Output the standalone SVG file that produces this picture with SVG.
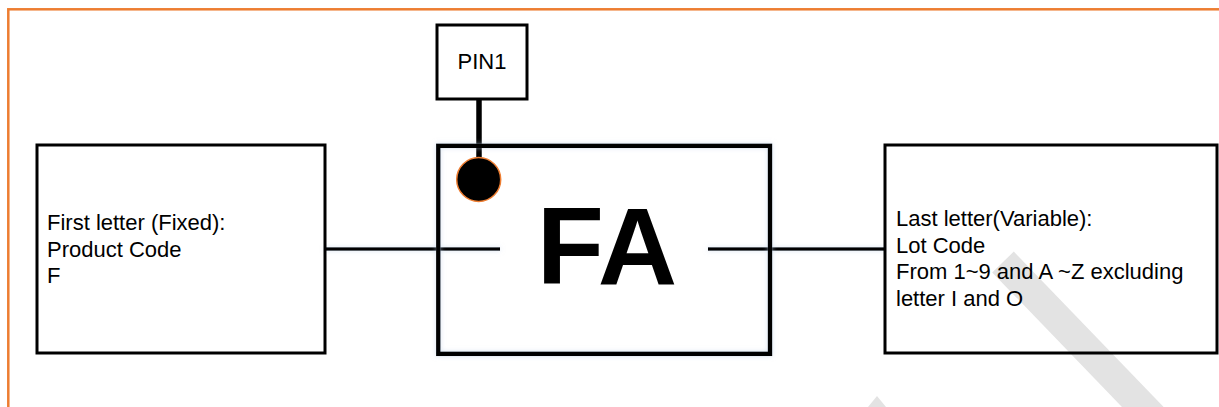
<svg xmlns="http://www.w3.org/2000/svg" width="1219" height="407" viewBox="0 0 1219 407">
  <defs>
    <style>
      .box { fill: none; stroke: #000; stroke-width: 3; }
      .chip { fill: none; stroke: #000; stroke-width: 4.5; }
      .lbl { font-family: "Liberation Sans", Arial, sans-serif; font-size: 22px; fill: #000; }
      .mark { font-family: "Liberation Sans", Arial, sans-serif; font-size: 110px; font-weight: bold; fill: #000; }
      .wire { stroke: #000; stroke-width: 3.5; fill: none; }
    </style>
    <filter id="glow" filterUnits="userSpaceOnUse" x="0" y="0" width="1219" height="407">
      <feGaussianBlur in="SourceAlpha" stdDeviation="2.5" result="b"/>
      <feFlood flood-color="#b9cde6" flood-opacity="0.55"/>
      <feComposite in2="b" operator="in" result="s"/>
      <feMerge><feMergeNode in="s"/><feMergeNode in="SourceGraphic"/></feMerge>
    </filter>
  </defs>

  <rect width="1219" height="407" fill="#fff"/>

  <!-- outer orange frame (continues past the right and bottom edges) -->
  <rect x="8.3" y="9.3" width="1400" height="600" fill="none" stroke="#ED7D31" stroke-width="2.5"/>

  <!-- light grey background stroke -->
  <g id="background-marks" fill="#e3e3e3">
    <line x1="1003" y1="262" x2="1165" y2="430" stroke="#e3e3e3" stroke-width="30"/>
    <polygon points="877,396 886,407 868,407"/>
  </g>

  <!-- connectors -->
  <g id="connectors" filter="url(#glow)">
    <line class="wire" x1="325" y1="249" x2="500" y2="249"/>
    <line class="wire" x1="708" y1="249" x2="885" y2="249"/>
  </g>
  <line x1="479" y1="99" x2="479" y2="160" stroke="#000" stroke-width="5.5"/>

  <g id="pin1">
    <rect class="box" x="437" y="25" width="90" height="74"/>
    <text class="lbl" x="482" y="69" text-anchor="middle">PIN1</text>
  </g>

  <g id="chip">
    <rect class="chip" x="438.3" y="145.8" width="331.7" height="208" filter="url(#glow)"/>
    <circle cx="478.7" cy="179.5" r="22" fill="#000" stroke="#ED7D31" stroke-width="1.5"/>
    <text class="mark" x="607" y="284" text-anchor="middle">FA</text>
  </g>

  <g id="first-letter">
    <rect class="box" x="37" y="145" width="288" height="208"/>
    <text class="lbl" x="47" y="230">First letter (Fixed):</text>
    <text class="lbl" x="47" y="256.7">Product Code</text>
    <text class="lbl" x="47" y="283.3">F</text>
  </g>

  <g id="last-letter">
    <rect class="box" x="885" y="145" width="332" height="208"/>
    <text class="lbl" x="896" y="226">Last letter(Variable):</text>
    <text class="lbl" x="896" y="252.5">Lot Code</text>
    <text class="lbl" x="896" y="279">From 1~9 and A ~Z excluding</text>
    <text class="lbl" x="896" y="305.5">letter I and O</text>
  </g>
</svg>
